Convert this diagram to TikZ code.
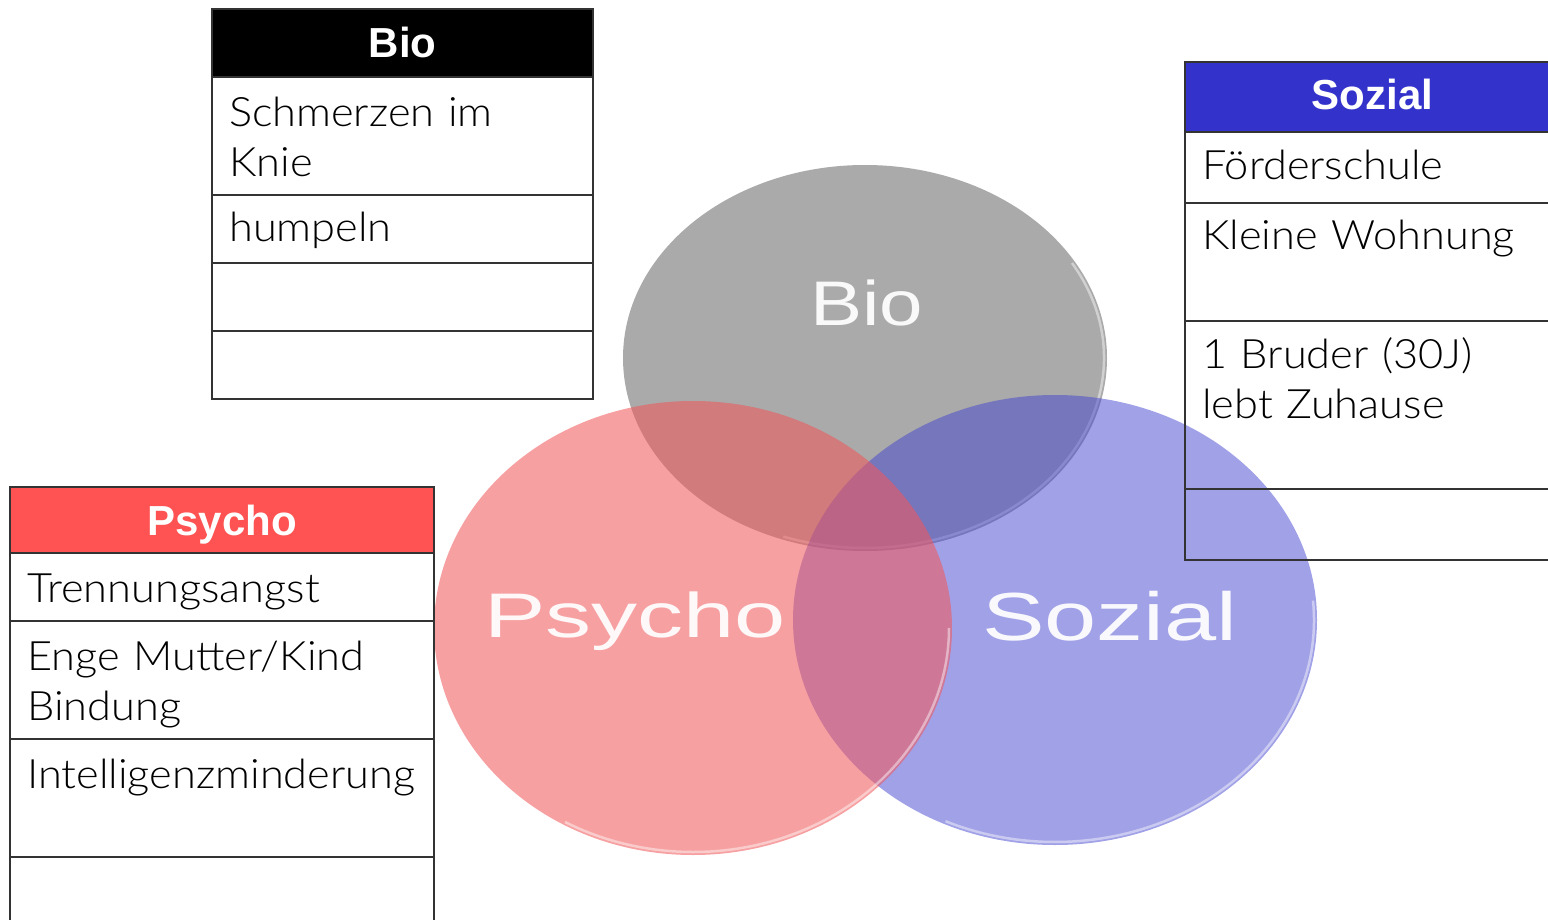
\documentclass[tikz,border=0pt]{standalone}
\usepackage{fontspec}
\setmainfont{Liberation Sans}
\newfontfamily\cellfont{Lato Light}[FakeStretch=1.07]
\newfontfamily\bioface{Liberation Sans}[FakeStretch=1.24]
\newfontfamily\psyface{Liberation Sans}[FakeStretch=1.46]
\newfontfamily\sozface{Liberation Sans}[FakeStretch=1.38]
\newcommand\cellsize{\fontsize{40.5}{50}\selectfont\spaceskip=8pt\relax}
\definecolor{bioGray}{RGB}{170,170,170}
\definecolor{psyRed}{RGB}{241,87,90}
\definecolor{sozBlue}{RGB}{67,67,209}
\definecolor{psyHead}{RGB}{255,82,82}
\definecolor{sozHead}{RGB}{51,51,204}
\begin{document}
\begin{tikzpicture}[x=1pt,y=-1pt,
	cell/.style={anchor=base west,inner sep=0pt,text width=500pt,align=left,font=\cellfont\cellsize},
	head/.style={anchor=base,inner sep=0pt,text=white,font=\bfseries\fontsize{42}{50}\selectfont},
	venn/.style={anchor=base west,inner sep=0pt,text=white,text opacity=0.93},
	rim/.style={white,opacity=0.45,line width=2.5pt},
	tabline/.style={draw=black!80,line width=1.5pt}]
	\useasboundingbox (0,0) rectangle (1548,920);

	\fill [bioGray] (865,358) ellipse (242 and 193);
	\draw [rim] (865,358) ++(-30:239 and 190) arc [start angle=-30,end angle=110,x radius=239,y radius=190];
	\fill [sozBlue,opacity=0.5] (1055,620) ellipse (262 and 225);
	\draw [rim] (1055,620) ++(-5:259 and 222) arc [start angle=-5,end angle=115,x radius=259,y radius=222];
	\fill [psyRed,opacity=0.565] (693,628) ellipse (259 and 227);
	\draw [rim] (693,628) ++(0:256 and 224) arc [start angle=0,end angle=120,x radius=256,y radius=224];

	\node [venn,font=\bioface\fontsize{63}{70}\selectfont] (bioTxt) at (810,325) {Bio};
	\node [venn,font=\psyface\fontsize{63}{70}\selectfont] (psyTxt) at (484,637) {Psycho};
	\node [venn,font=\sozface\fontsize{68}{75}\selectfont] (sozTxt) at (982,640) {Sozial};

	\fill [black] (212,9) rectangle (593,77);
	\draw [tabline] (212,9) rectangle (593,399);
	\foreach \yy in {77,195,263,331}
		\draw [tabline] (212,\yy) -- (593,\yy);
	\node [head] (bioHead) at (402.5,58) {Bio};
	\node [cell] (bioA) at (229,127) {Schmerzen im\\Knie};
	\node [cell] (bioB) at (229,242) {humpeln};

	\fill [psyHead] (10,487) rectangle (434,553);
	\draw [tabline] (10,930) -- (10,487) -- (434,487) -- (434,930);
	\foreach \yy in {553,621,739,857}
		\draw [tabline] (10,\yy) -- (434,\yy);
	\node [head] (psyHead) at (222,535) {Psycho};
	\node [cell] (psyA) at (27,602) {Trennungsangst};
	\node [cell] (psyB) at (27,670) {Enge Mutter/Kind\\Bindung};
	\node [cell] (psyC) at (27,788) {Intelligenzminderung};

	\fill [sozHead] (1185,62) rectangle (1560,132);
	\draw [tabline] (1560,62) -- (1185,62) -- (1185,560) -- (1560,560);
	\foreach \yy in {132,203,321,489}
		\draw [tabline] (1185,\yy) -- (1560,\yy);
	\node [head] (sozHead) at (1372.5,110) {Sozial};
	\node [cell] (sozA) at (1202,180) {Förderschule};
	\node [cell] (sozB) at (1202,250) {Kleine Wohnung};
	\node [cell] (sozC) at (1202,368) {1 Bruder (30J)\\lebt Zuhause};
\end{tikzpicture}
\end{document}
